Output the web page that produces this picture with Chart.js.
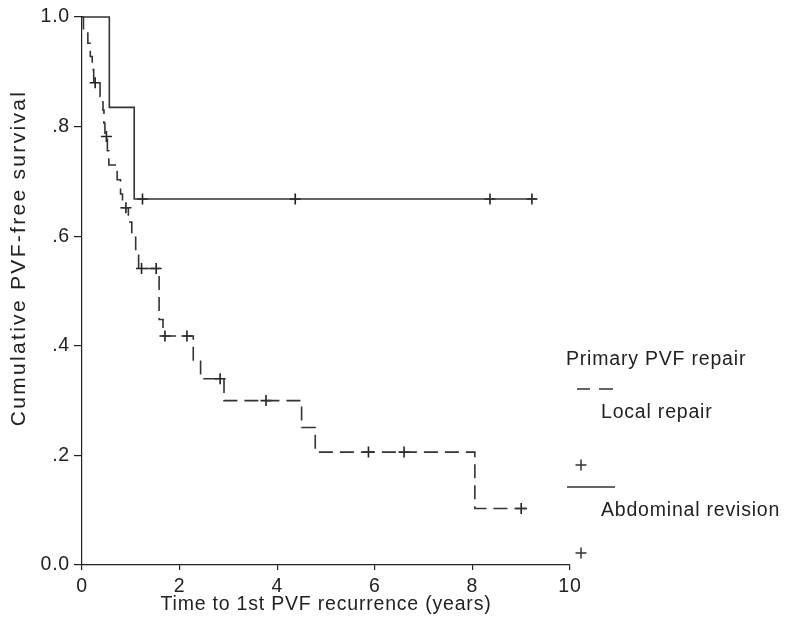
<!DOCTYPE html>
<html>
<head>
<meta charset="utf-8">
<script src="https://cdn.jsdelivr.net/npm/chart.js@4.4.0/dist/chart.umd.min.js"></script>
<style>
  body { margin: 0; background: #fff; }
  #wrap { width: 787px; height: 628px; }
</style>
</head>
<body>
<div id="wrap"><canvas id="km"></canvas></div>
<script>
// Kaplan-Meier steps (time in years, survival after the step)
const localTimes = [0, 0.03, 0.12, 0.17, 0.21, 0.24, 0.37, 0.43, 0.45, 0.47, 0.52, 0.55, 0.72, 0.79, 0.83, 0.95, 1.02, 1.10, 1.16, 1.58, 1.66, 2.28, 2.43, 2.91, 4.50, 4.78, 8.05, 9.12];
const localSurv  = [1.0, 0.976, 0.952, 0.928, 0.904, 0.880, 0.855, 0.830, 0.806, 0.782, 0.756, 0.730, 0.703, 0.677, 0.652, 0.626, 0.598, 0.569, 0.541, 0.448, 0.418, 0.374, 0.340, 0.300, 0.251, 0.206, 0.103, 0.103];
const localCensorTimes = [0.27, 0.50, 0.90, 1.22, 1.52, 1.70, 2.15, 2.83, 3.77, 5.87, 6.60, 9.00];
const localCensorSurv  = [0.880, 0.782, 0.652, 0.541, 0.541, 0.418, 0.418, 0.340, 0.300, 0.206, 0.206, 0.103];

const abdTimes = [0, 0.56, 1.07, 9.32];
const abdSurv  = [1.0, 0.835, 0.668, 0.668];
const abdCensorTimes = [1.24, 4.37, 8.36, 9.22];
const abdCensorSurv  = [0.668, 0.668, 0.668, 0.668];

const xTicks = [0, 2, 4, 6, 8, 10];
const yTickLabels = ['0.0', '.2', '.4', '.6', '.8', '1.0'];
const legendTitle = 'Primary PVF repair';
const legendLabels = ['Local repair', 'Abdominal revision'];
const xTitle = 'Time to 1st PVF recurrence (years)';
const yTitle = 'Cumulative PVF-free survival';

const ink = '#222222';
const lineInk = '#333333';
const fontFam = '"Liberation Sans", Arial, Helvetica, sans-serif';
const fontSize = 19.5;

function pts(xs, ys) {
  return xs.map((x, i) => ({ x: x, y: ys[i] }));
}

// the original text is a little wider than Arial
const spacingPlugin = {
  id: 'spacing',
  beforeUpdate(chart) { chart.ctx.letterSpacing = '0.8px'; },
  beforeDraw(chart) { chart.ctx.letterSpacing = '0.8px'; }
};

// y title + the SPSS style legend on the right
const extrasPlugin = {
  id: 'extras',
  afterDraw(chart) {
    const ctx = chart.ctx;
    ctx.save();
    ctx.fillStyle = ink;
    ctx.strokeStyle = lineInk;

    ctx.save();
    ctx.font = '21px ' + fontFam;
    ctx.letterSpacing = '2.3px';
    ctx.translate(19, 258);
    ctx.rotate(-Math.PI / 2);
    ctx.textAlign = 'center';
    ctx.textBaseline = 'middle';
    ctx.fillText(yTitle, 0, 0);
    ctx.restore();

    ctx.font = fontSize + 'px ' + fontFam;
    ctx.letterSpacing = '0.8px';
    ctx.textAlign = 'left';
    ctx.textBaseline = 'middle';
    ctx.fillText(legendTitle, 566, 360);
    ctx.fillText(legendLabels[0], 601, 413);
    ctx.fillText(legendLabels[1], 601, 511);

    ctx.lineWidth = 1.5;
    ctx.beginPath();
    ctx.moveTo(577, 389); ctx.lineTo(590, 389);
    ctx.moveTo(599, 389); ctx.lineTo(613, 389);
    ctx.moveTo(567, 487); ctx.lineTo(615, 487);
    [[581, 465], [581, 553]].forEach(([cx, cy]) => {
      ctx.moveTo(cx - 5.5, cy); ctx.lineTo(cx + 5.5, cy);
      ctx.moveTo(cx, cy - 5.5); ctx.lineTo(cx, cy + 5.5);
    });
    ctx.stroke();
    ctx.restore();
  }
};

const ctx = document.getElementById('km').getContext('2d');
const chart = new Chart(ctx, {
  type: 'scatter',
  data: {
    datasets: [
      {
        label: legendLabels[0],
        data: pts(localTimes, localSurv),
        showLine: true,
        stepped: 'before',
        borderColor: lineInk,
        borderWidth: 1.6,
        borderDash: [14, 7],
        pointRadius: 0,
        clip: false
      },
      {
        label: legendLabels[0] + ' censored',
        data: pts(localCensorTimes, localCensorSurv),
        showLine: false,
        pointStyle: 'cross',
        pointRadius: 5.5,
        borderColor: ink,
        borderWidth: 1.6,
        clip: false
      },
      {
        label: legendLabels[1],
        data: pts(abdTimes, abdSurv),
        showLine: true,
        stepped: 'before',
        borderColor: lineInk,
        borderWidth: 1.6,
        pointRadius: 0,
        clip: false
      },
      {
        label: legendLabels[1] + ' censored',
        data: pts(abdCensorTimes, abdCensorSurv),
        showLine: false,
        pointStyle: 'cross',
        pointRadius: 5.5,
        borderColor: ink,
        borderWidth: 1.6,
        clip: false
      }
    ]
  },
  options: {
    responsive: true,
    maintainAspectRatio: false,
    animation: false,
    layout: { padding: { left: 0, top: 17, right: 217, bottom: 0 } },
    plugins: {
      legend: { display: false },
      tooltip: { enabled: false }
    },
    scales: {
      x: {
        type: 'linear',
        min: 0,
        max: 10,
        afterFit: (scale) => { scale.height = 63; },
        afterBuildTicks: (scale) => { scale.ticks = xTicks.map(v => ({ value: v })); },
        ticks: { color: ink, font: { size: fontSize, family: fontFam }, padding: 5, maxRotation: 0 },
        grid: { drawOnChartArea: false, tickLength: 5, color: ink, lineWidth: 1.2 },
        border: { color: ink, width: 1.2 },
        title: { display: true, text: xTitle, color: ink, font: { size: fontSize, family: fontFam }, padding: { top: 0, bottom: 12 } }
      },
      y: {
        type: 'linear',
        min: 0,
        max: 1,
        afterFit: (scale) => { scale.width = 82; },
        ticks: {
          stepSize: 0.2,
          color: ink,
          font: { size: fontSize, family: fontFam },
          padding: 4,
          callback: (v, i) => yTickLabels[i]
        },
        grid: { drawOnChartArea: false, tickLength: 8, color: ink, lineWidth: 1.2 },
        border: { color: ink, width: 1.2 }
      }
    }
  },
  plugins: [spacingPlugin, extrasPlugin]
});
</script>
</body>
</html>
